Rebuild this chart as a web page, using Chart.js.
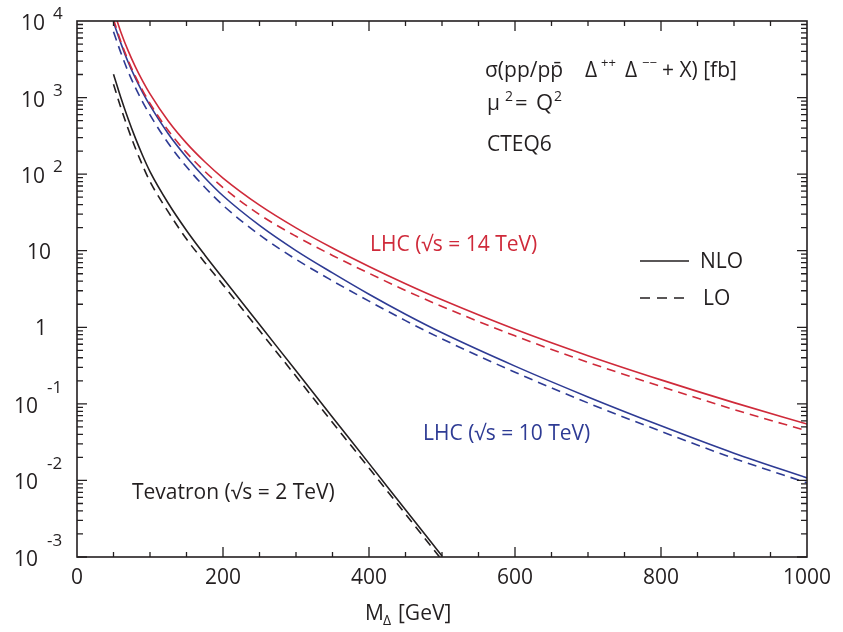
<!DOCTYPE html>
<html>

<head>
    <meta charset="utf-8" />
    <title>Doubly charged Delta pair production</title>
    <style>
        body {
            margin: 0;
            background: #fff;
        }

        .chart-container {
            width: 843px;
            height: 632px;
        }
    </style>
    <script src="https://cdn.jsdelivr.net/npm/chart.js"></script>
</head>

<body>
    <div class="chart-container">
        <canvas id="chartXsec"></canvas>
    </div>

    <script>
        // mass points in GeV
        const masses = [50, 60, 70, 80, 90, 100, 125, 150, 175, 200, 250, 300, 350, 400, 450, 500, 600, 700, 800, 900, 1000];
        const tevMasses = [50, 60, 70, 80, 90, 100, 125, 150, 175, 200, 250, 300, 350, 400, 450, 500];

        // cross sections in fb
        const lhc14Nlo = [14000, 7200, 4100, 2520, 1640, 1116, 494, 254, 145, 89, 39.4, 19.9, 10.85, 6.23, 3.71, 2.285, 0.943, 0.426, 0.2057, 0.1038, 0.0546];
        const lhc14Lo = [10530, 5410, 3083, 1895, 1233, 839, 371, 191, 109, 66.9, 29.6, 15.43, 8.68, 5.07, 3.03, 1.87, 0.773, 0.349, 0.1686, 0.0844, 0.0444];
        const lhc10Nlo = [9600, 5140, 2910, 1790, 1164, 789, 337, 166, 89.8, 52.2, 21.4, 10.04, 5.13, 2.70, 1.48, 0.847, 0.311, 0.1232, 0.0517, 0.0227, 0.0108];
        const lhc10Lo = [7220, 3865, 2188, 1346, 875, 593, 253, 124.8, 67.5, 39.2, 16.1, 7.72, 4.04, 2.195, 1.223, 0.706, 0.259, 0.1027, 0.0438, 0.0194, 0.0093];
        const tevNlo = [2018, 1000, 528, 295, 174, 108, 41.7, 18.4, 8.81, 4.37, 1.085, 0.27, 0.067, 0.0167, 0.00414, 0.00103];
        const tevLo = [1495, 741, 391, 218, 129, 80, 32.1, 14.2, 7.04, 3.58, 0.905, 0.229, 0.0572, 0.0145, 0.00363, 0.00091];

        // axis ticks
        const xTickValues = [0, 200, 400, 600, 800, 1000];
        const xTickLabels = ['0', '200', '400', '600', '800', '1000'];
        const yTickExps = [4, 3, 2, 1, 0, -1, -2, -3];

        const RED = '#cf2a3a';
        const BLUE = '#2e3b94';
        const BLACK = '#231f20';
        const FONT = '"Open Sans", "Noto Sans", sans-serif';

        function pts(xs, ys) {
            return xs.map((x, i) => ({ x: x, y: ys[i] }));
        }

        function curve(label, xs, ys, color, dashed) {
            return {
                label: label,
                data: pts(xs, ys),
                borderColor: color,
                borderWidth: 1.6,
                borderDash: dashed ? [9, 6] : [],
                pointRadius: 0,
                fill: false,
                cubicInterpolationMode: 'monotone'
            };
        }

        function txt(ctx, s, x, y, size, color, align) {
            ctx.font = size + 'px ' + FONT;
            ctx.fillStyle = color || BLACK;
            ctx.textAlign = align || 'left';
            ctx.textBaseline = 'alphabetic';
            ctx.fillText(s, x, y);
        }

        // frame, inward ticks and all the labels
        const decorPlugin = {
            id: 'decor',
            afterDraw(chart) {
                const ctx = chart.ctx;
                const a = chart.chartArea;
                const xs = chart.scales.x, ys = chart.scales.y;
                ctx.save();
                ctx.strokeStyle = BLACK;
                ctx.lineWidth = 1.6;
                ctx.setLineDash([]);
                ctx.strokeRect(a.left, a.top, a.right - a.left, a.bottom - a.top);

                ctx.lineWidth = 1.3;
                ctx.beginPath();
                // x ticks every 50, long every 200
                for (let v = 50; v < 1000; v += 50) {
                    const px = xs.getPixelForValue(v);
                    const len = v % 200 === 0 ? 10 : 5;
                    ctx.moveTo(px, a.bottom); ctx.lineTo(px, a.bottom - len);
                    ctx.moveTo(px, a.top); ctx.lineTo(px, a.top + len);
                }
                // y ticks per decade
                for (let e = -3; e < 4; e++) {
                    for (let k = 1; k < 10; k++) {
                        const py = ys.getPixelForValue(k * Math.pow(10, e));
                        const len = k === 1 ? 10 : 6;
                        ctx.moveTo(a.left, py); ctx.lineTo(a.left + len, py);
                        ctx.moveTo(a.right, py); ctx.lineTo(a.right - len, py);
                    }
                }
                ctx.stroke();

                // x tick labels
                xTickValues.forEach((v, i) => {
                    txt(ctx, xTickLabels[i], xs.getPixelForValue(v), a.bottom + 27, 21, BLACK, 'center');
                });

                // y tick labels as 10 with raised exponent
                yTickExps.forEach(e => {
                    const py = ys.getPixelForValue(Math.pow(10, e));
                    if (e === 0) {
                        txt(ctx, '1', 41, py + 8, 21, BLACK, 'center');
                    } else if (e === 1) {
                        txt(ctx, '10', 51, py + 8, 21, BLACK, 'right');
                    } else if (e > 0) {
                        txt(ctx, '10', 45, py + 9, 21, BLACK, 'right');
                        txt(ctx, String(e), 53, py - 2, 17, BLACK, 'left');
                    } else {
                        txt(ctx, '10', 38, py + 9, 21, BLACK, 'right');
                        txt(ctx, String(e), 47, py - 11, 17, BLACK, 'left');
                    }
                });

                // x axis title
                txt(ctx, 'M', 365, 620, 21);
                txt(ctx, 'Δ', 383, 625, 14);
                txt(ctx, '[GeV]', 398, 620, 21);

                // process text
                txt(ctx, 'σ(pp/pp\u0304', 485, 77, 21);
                txt(ctx, 'Δ', 585, 77, 21);
                txt(ctx, '++', 601, 67, 13);
                txt(ctx, 'Δ', 625, 77, 21);
                txt(ctx, '\u2212\u2212', 642, 67, 13);
                txt(ctx, '+ X) [fb]', 662, 77, 21);

                txt(ctx, 'μ', 487, 110, 21);
                txt(ctx, '2', 505, 101, 14);
                txt(ctx, '=', 515, 110, 22);
                txt(ctx, 'Q', 536, 110, 22);
                txt(ctx, '2', 554, 101, 14);

                txt(ctx, 'CTEQ6', 487, 151, 21);

                // curve labels
                txt(ctx, 'LHC (√s = 14 TeV)', 370, 251, 21, RED);
                txt(ctx, 'LHC (√s = 10 TeV)', 423, 440, 21, BLUE);
                txt(ctx, 'Tevatron (√s = 2 TeV)', 132, 499, 21, BLACK);

                // legend
                ctx.strokeStyle = BLACK;
                ctx.lineWidth = 1.6;
                ctx.beginPath();
                ctx.moveTo(640, 261); ctx.lineTo(689, 261);
                ctx.stroke();
                ctx.setLineDash([10, 7]);
                ctx.beginPath();
                ctx.moveTo(640, 298); ctx.lineTo(690, 298);
                ctx.stroke();
                ctx.setLineDash([]);
                txt(ctx, 'NLO', 700, 268, 21);
                txt(ctx, 'LO', 703, 305, 21);
                ctx.restore();
            }
        };

        const ctx = document.getElementById('chartXsec').getContext('2d');
        new Chart(ctx, {
            type: 'line',
            data: {
                datasets: [
                    curve('LHC 14 TeV NLO', masses, lhc14Nlo, RED, false),
                    curve('LHC 14 TeV LO', masses, lhc14Lo, RED, true),
                    curve('LHC 10 TeV NLO', masses, lhc10Nlo, BLUE, false),
                    curve('LHC 10 TeV LO', masses, lhc10Lo, BLUE, true),
                    curve('Tevatron NLO', tevMasses, tevNlo, BLACK, false),
                    curve('Tevatron LO', tevMasses, tevLo, BLACK, true)
                ]
            },
            options: {
                responsive: true,
                maintainAspectRatio: false,
                animation: false,
                layout: { padding: { left: 77, right: 36, top: 21, bottom: 75 } },
                scales: {
                    x: { type: 'linear', min: 0, max: 1000, display: false },
                    y: { type: 'logarithmic', min: 0.001, max: 10000, display: false }
                },
                plugins: {
                    legend: { display: false },
                    tooltip: { enabled: false }
                }
            },
            plugins: [decorPlugin]
        });
    </script>
</body>

</html>
